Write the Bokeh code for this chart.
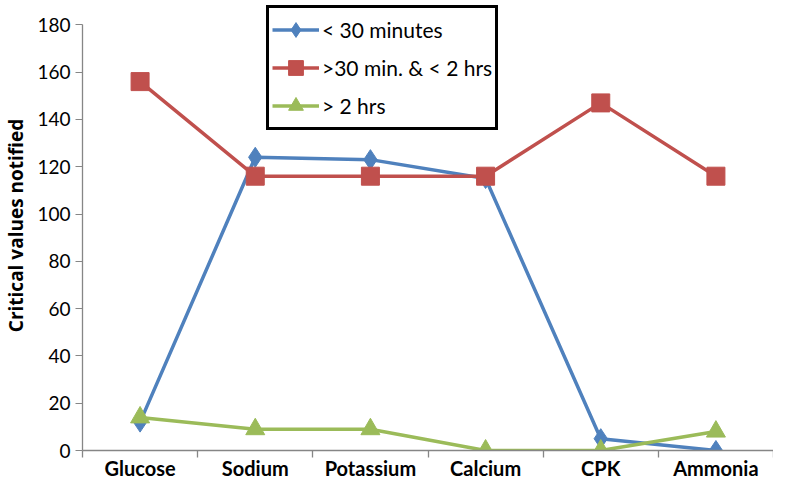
from bokeh.plotting import figure
from bokeh.models import FixedTicker, Legend, LegendItem, Range1d
from bokeh.embed import file_html
from bokeh.resources import INLINE

categories = ["Glucose", "Sodium", "Potassium", "Calcium", "CPK", "Ammonia"]
under_30 = [12, 124, 123, 115, 5, 0]
between = [156, 116, 116, 116, 147, 116]
over_2 = [14, 9, 9, 0, 0, 8]
series_names = ["< 30 minutes", ">30 min. & < 2 hrs", "> 2 hrs"]
y_ticks = [0, 20, 40, 60, 80, 100, 120, 140, 160, 180]

xs = [i + 0.5 for i in range(len(categories))]
bounds = list(range(0, len(categories) + 1))

p = figure(width=773, height=482, output_backend="svg", toolbar_location=None,
           x_range=Range1d(0, len(categories)), y_range=Range1d(0, 190.3),
           min_border_left=70, min_border_right=0, min_border_top=0, min_border_bottom=30)
p.outline_line_color = None
p.xgrid.grid_line_color = None
p.ygrid.grid_line_color = None
p.background_fill_color = "white"
p.border_fill_color = "white"

blue, red, green = "#4F81BD", "#C0504D", "#9BBB59"
axis_gray = "#868686"
font = "Lato"

r1 = p.line(xs, under_30, color=blue, line_width=3.5)
m1 = p.scatter(xs, under_30, marker="diamond", size=20, color=blue)
r2 = p.line(xs, between, color=red, line_width=3.5)
m2 = p.scatter(xs, between, marker="square", size=18, color=red)
r3 = p.line(xs, over_2, color=green, line_width=3.5)
m3 = p.scatter(xs, over_2, marker="triangle", size=19, color=green)

# x axis: labels at category centres, ticks (minor) at boundaries
xa = p.xaxis[0]
xa.ticker = FixedTicker(ticks=xs, minor_ticks=bounds)
xa.major_label_overrides = {x: c for x, c in zip(xs, categories)}
xa.major_tick_line_color = None
xa.major_tick_in = 0
xa.major_tick_out = 0
xa.minor_tick_in = 0
xa.minor_tick_out = 7
xa.minor_tick_line_color = axis_gray
xa.minor_tick_line_width = 1.3
xa.axis_line_color = axis_gray
xa.axis_line_width = 1.3
xa.major_label_text_font = font
xa.major_label_text_font_style = "bold"
xa.major_label_text_font_size = "20px"
xa.major_label_text_color = "black"
xa.major_label_standoff = -2

ya = p.yaxis[0]
ya.ticker = FixedTicker(ticks=y_ticks)
ya.bounds = (0, 180)
ya.minor_tick_line_color = None
ya.major_tick_in = 0
ya.major_tick_out = 7
ya.major_tick_line_color = axis_gray
ya.axis_line_color = axis_gray
ya.axis_line_width = 1.3
ya.major_label_text_font = font
ya.major_label_text_font_size = "19px"
ya.major_label_text_color = "black"
ya.major_label_standoff = 5
ya.axis_label = "Critical values notified"
ya.axis_label_text_font = "Open Sans"
ya.axis_label_text_font_style = "bold"
ya.axis_label_text_font_size = "19px"
ya.axis_label_text_color = "black"
ya.axis_label_standoff = 5

legend = Legend(items=[
    LegendItem(label=series_names[0], renderers=[r1, m1]),
    LegendItem(label=series_names[1], renderers=[r2, m2]),
    LegendItem(label=series_names[2], renderers=[r3, m3]),
], location=(184, 320))
legend.border_line_color = "black"
legend.border_line_alpha = 1
legend.border_line_width = 3.5
legend.background_fill_color = "white"
legend.background_fill_alpha = 1
legend.label_text_font = font
legend.label_text_font_size = "21px"
legend.label_text_color = "black"
legend.glyph_width = 47
legend.glyph_height = 37
legend.label_height = 37
legend.label_standoff = 3
legend.spacing = 1
legend.padding = 3
legend.margin = 0
p.add_layout(legend)

open("out.html", "w").write(file_html(p, INLINE))
